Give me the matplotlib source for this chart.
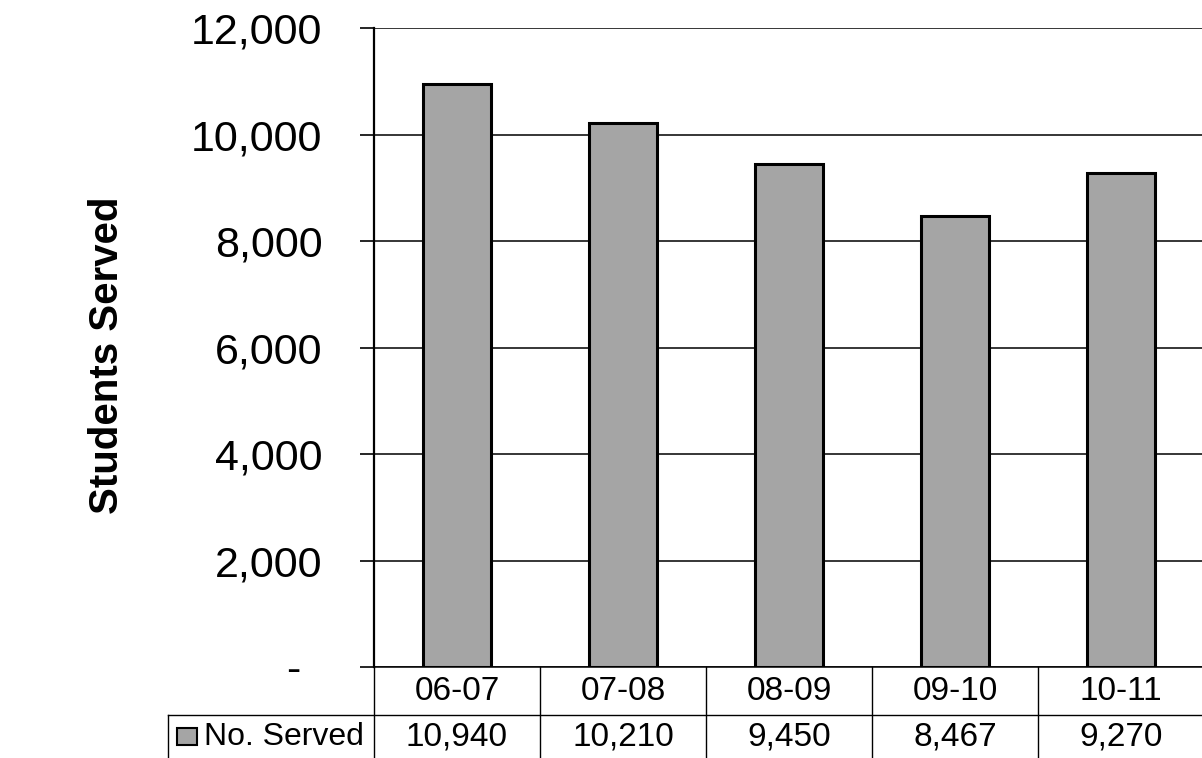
import matplotlib
matplotlib.use("Agg")
import matplotlib.pyplot as plt
from matplotlib.patches import Rectangle
from matplotlib.ticker import FuncFormatter, MultipleLocator
import matplotlib.transforms as mtransforms

plt.rcParams['font.family'] = ['Liberation Sans', 'DejaVu Sans']

years = ["06-07", "07-08", "08-09", "09-10", "10-11"]
served = [10940, 10210, 9450, 8467, 9270]
series_name = "No. Served"
y_label = "Students Served"

bar_color = "#a5a5a5"

fig = plt.figure(figsize=(12.02, 7.58), dpi=100)
ax = fig.add_axes([374 / 1202, 1 - 667 / 758, 830 / 1202, 639 / 758])

x = list(range(len(years)))
ax.bar(x, served, width=0.41, color=bar_color, edgecolor="black",
       linewidth=2.2, zorder=3)

ax.set_xlim(-0.5, len(years) - 0.5)
ax.set_ylim(0, 12000)
ax.yaxis.set_major_locator(MultipleLocator(2000))
ax.yaxis.set_major_formatter(
    FuncFormatter(lambda v, p: "-\u2002" if v == 0 else f"{v:,.0f}"))
ax.grid(axis="y", color="black", linewidth=1.1, zorder=1)
ax.set_xticks([])

for side in ("top", "right"):
    ax.spines[side].set_visible(False)
ax.spines["left"].set_linewidth(1.6)
ax.spines["bottom"].set_linewidth(1.1)
ax.tick_params(axis="y", direction="out", length=10, width=1.2,
               pad=27, labelsize=31)

fig.text(107 / 1202, 1 - 355 / 758, y_label, rotation=90, fontsize=29,
         fontweight="bold", ha="center", va="center")

# Data table under the plot: category row and value row
trans = mtransforms.blended_transform_factory(ax.transData, ax.transAxes)
row_h = 48 / 639
label_left = -0.5 - 206 / 166
n = len(years)
line_kw = dict(color="black", linewidth=1.0, transform=trans, clip_on=False)

# horizontal rule between the two rows
ax.plot([label_left, n - 0.5], [-row_h, -row_h], **line_kw)
# vertical cell borders
for b in range(n + 1):
    xb = b - 0.5
    ax.plot([xb, xb], [0, -2.2 * row_h], **line_kw)
ax.plot([label_left, label_left], [-row_h, -2.2 * row_h], **line_kw)

for i, (yr, val) in enumerate(zip(years, served)):
    ax.text(i, -0.5 * row_h, yr, transform=trans, ha="center", va="center",
            fontsize=24, clip_on=False)
    ax.text(i, -1.45 * row_h, f"{val:,}", transform=trans, ha="center",
            va="center", fontsize=24, clip_on=False)

# legend key in the row header
key_w = 20 / 166
key_h = 17 / 639
key_x = label_left + 9 / 166
ax.add_patch(Rectangle((key_x, -1.45 * row_h - key_h / 2), key_w, key_h,
                       facecolor=bar_color, edgecolor="black", linewidth=1.5,
                       transform=trans, clip_on=False))
ax.text(key_x + key_w + 7 / 166, -1.45 * row_h, series_name, transform=trans,
        ha="left", va="center", fontsize=23, clip_on=False)

fig.savefig("out.png", dpi=100, facecolor="white")
